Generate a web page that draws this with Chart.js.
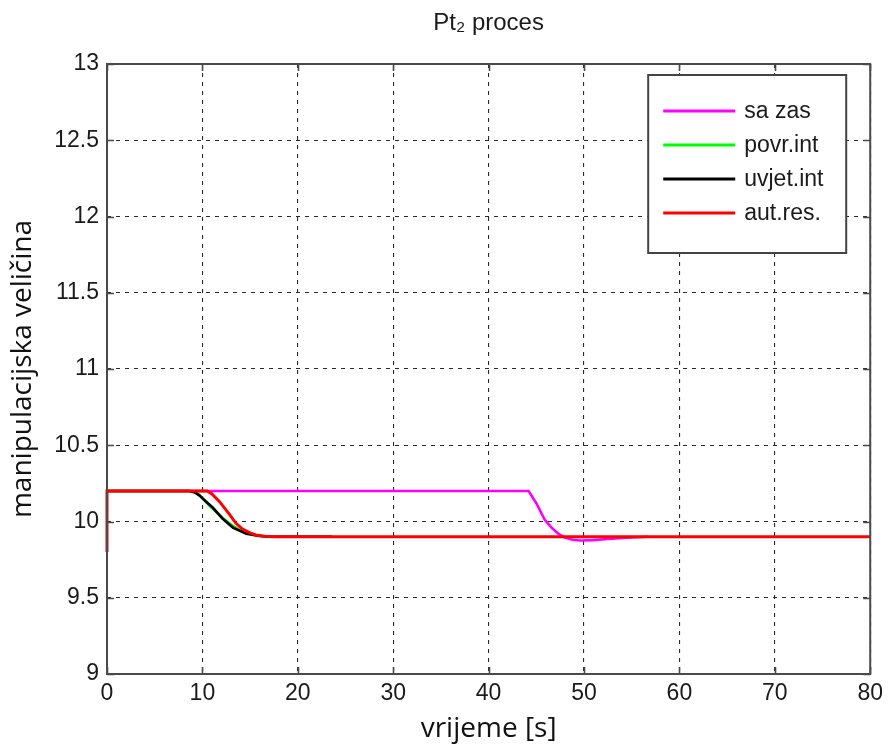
<!DOCTYPE html>
<html>
<head>
<meta charset="utf-8">
<script src="https://cdn.jsdelivr.net/npm/chart.js@4.4.1/dist/chart.umd.min.js"></script>
<style>
  html, body { margin: 0; padding: 0; background: #ffffff; }
  #wrap { width: 889px; height: 749px; position: relative; }
</style>
</head>
<body>
<div id="wrap"><canvas id="c"></canvas></div>
<script>
// ---- data ----
const chartTitle = 'Pt\u2082 proces';
const xTitle = 'vrijeme [s]';
const yTitle = 'manipulacijska veli\u010dina';
const seriesNames = ['sa zas', 'povr.int', 'uvjet.int', 'aut.res.'];
const xTicks = [0, 10, 20, 30, 40, 50, 60, 70, 80];
const yTicks = [9, 9.5, 10, 10.5, 11, 11.5, 12, 12.5, 13];

const tSaZas = [0, 44.2, 45, 45.9, 46.6, 47.3, 48, 48.8, 49.7, 51, 52.5, 54.5, 56.7];
const vSaZas = [10.2, 10.2, 10.12, 10.01, 9.96, 9.92, 9.895, 9.88, 9.875, 9.878, 9.885, 9.893, 9.9];

const tPovr = [0, 9.0, 9.6, 10.2, 10.8, 11.5, 12.2, 13.0, 14.0, 15.5, 17.0, 23.6];
const vPovr = [10.2, 10.2, 10.18, 10.14, 10.1, 10.06, 10.02, 9.98, 9.94, 9.91, 9.9, 9.9];

const tUvjet = [0, 8.6, 9.2, 9.7, 10.4, 11.1, 12.1, 13.2, 14.6, 16.0, 17.0, 23.6];
const vUvjet = [10.2, 10.2, 10.19, 10.17, 10.13, 10.09, 10.02, 9.96, 9.92, 9.905, 9.9, 9.9];

const tAut = [0, 0, 10.5, 11, 11.8, 12.8, 13.5, 14.2, 15, 15.6, 16.5, 17.5, 80];
const vAut = [9.8, 10.2, 10.2, 10.18, 10.13, 10.05, 9.99, 9.95, 9.925, 9.912, 9.903, 9.9, 9.9];

const seriesColors = ['#ff00ff', '#00ff00', '#000000', '#ff0000'];

function pts(t, v) { return t.map((x, i) => ({ x: x, y: v[i] })); }

const allT = [tSaZas, tPovr, tUvjet, tAut];
const allV = [vSaZas, vPovr, vUvjet, vAut];
const drawOrder = [3, 2, 1, 0]; // red on top, then black, green, magenta

const datasets = seriesNames.map((name, i) => ({
  label: name,
  data: pts(allT[i], allV[i]),
  borderColor: seriesColors[i],
  backgroundColor: seriesColors[i],
  borderWidth: i === 3 ? 3 : 2.6,
  pointRadius: 0,
  tension: 0,
  fill: false,
  clip: 4,
  order: drawOrder[i]
}));

// frame with inward ticks on all four sides
const framePlugin = {
  id: 'frame',
  afterDraw(chart) {
    const { ctx, chartArea: a, scales } = chart;
    const tl = 7;
    ctx.save();
    ctx.strokeStyle = '#4a4a4a';
    ctx.lineWidth = 1.6;
    ctx.setLineDash([]);
    ctx.beginPath();
    xTicks.forEach(v => {
      const px = Math.round(scales.x.getPixelForValue(v)) + 0.5;
      ctx.moveTo(px, a.bottom); ctx.lineTo(px, a.bottom - tl);
      ctx.moveTo(px, a.top); ctx.lineTo(px, a.top + tl);
    });
    yTicks.forEach(v => {
      const py = Math.round(scales.y.getPixelForValue(v)) + 0.5;
      ctx.moveTo(a.left, py); ctx.lineTo(a.left + tl, py);
      ctx.moveTo(a.right, py); ctx.lineTo(a.right - tl, py);
    });
    ctx.stroke();
    ctx.lineWidth = 2;
    ctx.strokeRect(a.left, a.top, a.right - a.left, a.bottom - a.top);
    ctx.restore();
  }
};

// legend box inside the plot, top right (MATLAB style)
const boxLegendPlugin = {
  id: 'boxLegend',
  afterDraw(chart) {
    const { ctx, chartArea: a } = chart;
    const w = 198, h = 178;
    const left = a.right - 24 - w, top = a.top + 11;
    ctx.save();
    ctx.fillStyle = '#ffffff';
    ctx.fillRect(left, top, w, h);
    ctx.strokeStyle = '#444444';
    ctx.lineWidth = 2;
    ctx.strokeRect(left, top, w, h);
    ctx.font = '23px "Liberation Sans", Arial, sans-serif';
    ctx.textBaseline = 'middle';
    ctx.textAlign = 'left';
    chart.data.datasets.forEach((ds, i) => {
      const y = top + 36 + i * 34;
      ctx.strokeStyle = ds.borderColor;
      ctx.lineWidth = 3;
      ctx.beginPath();
      ctx.moveTo(left + 15, y);
      ctx.lineTo(left + 87, y);
      ctx.stroke();
      ctx.fillStyle = '#1a1a1a';
      ctx.fillText(ds.label, left + 96, y + 1);
    });
    ctx.restore();
  }
};

new Chart(document.getElementById('c'), {
  type: 'line',
  data: { datasets: datasets },
  options: {
    responsive: true,
    maintainAspectRatio: false,
    animation: false,
    layout: { padding: { left: 0, right: 16, top: 0, bottom: 0 } },
    plugins: {
      legend: { display: false },
      tooltip: { enabled: false },
      title: {
        display: true,
        text: chartTitle,
        fullSize: false,
        color: '#1a1a1a',
        font: { family: '"Liberation Sans", Arial, sans-serif', size: 24, weight: 'normal' },
        padding: { top: 9, bottom: 26.2 }
      }
    },
    scales: {
      x: {
        type: 'linear',
        min: 0, max: 80,
        afterFit(scale) { scale.height = 75; },
        afterBuildTicks(scale) { scale.ticks = xTicks.map(v => ({ value: v })); },
        ticks: {
          color: '#1a1a1a',
          padding: 6,
          maxRotation: 0,
          font: { family: '"Liberation Sans", Arial, sans-serif', size: 23 },
          callback: v => String(v)
        },
        grid: { color: '#2a2a2a', lineWidth: 1.1, drawTicks: false },
        border: { display: false, dash: [4, 5] },
        title: {
          display: true,
          text: xTitle,
          color: '#111111',
          font: { family: '"Open Sans", sans-serif', size: 28 },
          padding: { top: 0, bottom: 3 }
        }
      },
      y: {
        type: 'linear',
        min: 9, max: 13,
        afterFit(scale) { scale.width = 107; },
        afterBuildTicks(scale) { scale.ticks = yTicks.map(v => ({ value: v })); },
        ticks: {
          color: '#1a1a1a',
          padding: 8,
          font: { family: '"Liberation Sans", Arial, sans-serif', size: 23 },
          callback: v => String(v)
        },
        grid: { color: '#2a2a2a', lineWidth: 1.1, drawTicks: false },
        border: { display: false, dash: [4, 5] },
        title: {
          display: true,
          text: yTitle,
          color: '#111111',
          font: { family: '"Open Sans", sans-serif', size: 28 },
          padding: { top: 6, bottom: 0 }
        }
      }
    }
  },
  plugins: [framePlugin, boxLegendPlugin]
});
</script>
</body>
</html>
